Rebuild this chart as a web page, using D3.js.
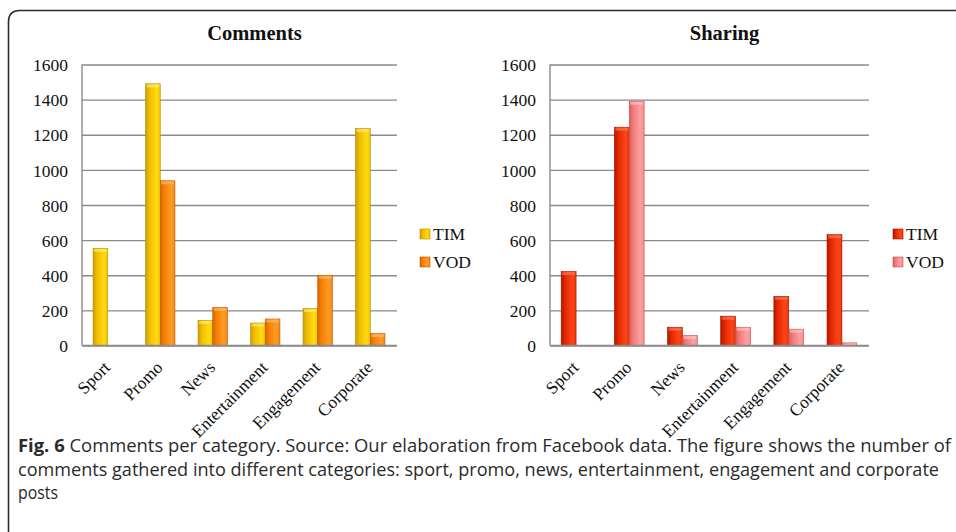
<!DOCTYPE html>
<html><head><meta charset="utf-8">
<script src="https://cdn.jsdelivr.net/npm/d3@7"></script>
<style>html,body{margin:0;padding:0;background:#fff;}svg{display:block;}</style>
</head><body>
<svg id="c" width="956" height="532"></svg>
<script>
const categories = ["Sport","Promo","News","Entertainment","Engagement","Corporate"];
const seriesNames = ["TIM","VOD"];
const commentsTIM = [553, 1490, 143, 128, 210, 1235];
const commentsVOD = [0, 938, 216, 151, 400, 68];
const sharingTIM = [421, 1243, 104, 167, 280, 631];
const sharingVOD = [0, 1391, 57, 104, 93, 15];
const yTicks = [0,200,400,600,800,1000,1200,1400,1600];
const captionBold = "Fig. 6";
const captionLines = [" Comments per category. Source: Our elaboration from Facebook data. The figure shows the number of",
  "comments gathered into different categories: sport, promo, news, entertainment, engagement and corporate",
  "posts"];

const svg = d3.select("#c");
const defs = svg.append("defs");
function grad(id, stops){
  const g = defs.append("linearGradient").attr("id", id).attr("x1","0").attr("x2","1").attr("y1","0").attr("y2","0");
  stops.forEach(s => g.append("stop").attr("offset", s[0]).attr("stop-color", s[1]));
}
grad("gTimC", [["0%","#cf9c00"],["25%","#eebb00"],["75%","#ffdc10"],["100%","#f0c400"]]);
grad("gVodC", [["0%","#d86400"],["25%","#f57f00"],["75%","#ff9a28"],["100%","#f08a10"]]);
grad("gTimS", [["0%","#b81400"],["25%","#e02800"],["75%","#ff4418"],["100%","#ea3608"]]);
grad("gVodS", [["0%","#d85c5c"],["25%","#f07a7a"],["75%","#ffa0a0"],["100%","#f48c8c"]]);

const serif = "'Liberation Serif','Times New Roman',serif";

// frame
svg.append("path").attr("d","M8.5,540 L8.5,22 Q8.5,10.5 20,10.5 L970,10.5")
  .attr("fill","none").attr("stroke","#2a2a2a").attr("stroke-width",1.6);

const y = d3.scaleLinear().domain([0,1600]).range([345.5,64.5]);

function chart(opt){
  const x = d3.scaleBand().domain(categories).range([opt.x0, opt.x1]).padding(0);
  const xs = d3.scaleBand().domain(seriesNames).range([0, x.bandwidth()*0.56]);
  const off = x.bandwidth()*0.22 - 0.5;
  const g = svg.append("g");
  // gridlines
  g.append("g").attr("transform",`translate(${opt.x0},0)`)
    .call(d3.axisLeft(y).tickValues(yTicks).tickSize(-(opt.x1-opt.x0)).tickFormat(d=>d))
    .attr("font-family", serif)
    .call(a=>a.select(".domain").remove())
    .call(a=>a.selectAll("line").attr("stroke","#8a8a8a").attr("stroke-width",1.4))
    .call(a=>a.selectAll("text").attr("x",-14).attr("dy","0.35em")
      .attr("font-family",serif).attr("font-size",17.5).attr("fill","#111"));
  g.append("line").attr("x1",opt.x0).attr("x2",opt.x0).attr("y1",y(1600)).attr("y2",y(0))
    .attr("stroke","#8a8a8a").attr("stroke-width",1.4);
  // bars
  const data = [opt.tim, opt.vod];
  const fills = [opt.fTim, opt.fVod];
  const strokes = [opt.sTim, opt.sVod];
  seriesNames.forEach((s,si)=>{
    const vals = data[si];
    g.append("g").selectAll("rect").data(categories.map((c,i)=>({c, v:vals[i]})).filter(d=>d.v>0))
      .join("rect")
      .attr("x", d=>x(d.c)+off+xs(s))
      .attr("y", d=>y(d.v))
      .attr("width", xs.bandwidth())
      .attr("height", d=>y(0)-y(d.v))
      .attr("fill", `url(#${fills[si]})`)
      .attr("stroke", strokes[si]).attr("stroke-width",0.6);
    g.append("g").selectAll("rect").data(categories.map((c,i)=>({c, v:vals[i]})).filter(d=>d.v>12))
      .join("rect")
      .attr("x", d=>x(d.c)+off+xs(s)+1)
      .attr("y", d=>y(d.v)+0.5)
      .attr("width", xs.bandwidth()-2)
      .attr("height", 3)
      .attr("fill", opt.cap[si]).attr("opacity",0.6);
  });
  // baseline
  g.append("line").attr("x1",opt.x0).attr("x2",opt.x1).attr("y1",y(0)).attr("y2",y(0))
    .attr("stroke","#8a8a8a").attr("stroke-width",1.4);
  // x labels
  g.append("g").selectAll("text").data(categories).join("text")
    .attr("transform", d=>`translate(${x(d)+x.bandwidth()/2+3},${y(0)+23}) rotate(-45)`)
    .attr("text-anchor","end")
    .attr("font-family",serif).attr("font-size",17.5).attr("fill","#111")
    .text(d=>d);
  // title
  g.append("text").attr("x", (opt.x0+opt.x1)/2+15).attr("y", 40).attr("text-anchor","middle")
    .attr("font-family",serif).attr("font-weight","bold").attr("font-size",20.5)
    .attr("fill","#111").text(opt.title);
  // legend
  const lg = g.append("g").attr("transform",`translate(${opt.lx},0)`);
  seriesNames.forEach((s,si)=>{
    const ly = 234 + si*28;
    lg.append("rect").attr("x",0).attr("y",ly-5).attr("width",10).attr("height",10)
      .attr("fill",`url(#${fills[si]})`).attr("stroke",strokes[si]).attr("stroke-width",0.6);
    lg.append("text").attr("x",13).attr("y",ly+6)
      .attr("font-family",serif).attr("font-size",17.5).attr("fill","#111").text(s);
  });
}

chart({x0:82, x1:397, tim:commentsTIM, vod:commentsVOD, fTim:"gTimC", fVod:"gVodC",
  sTim:"#b88a00", sVod:"#c05800", cap:["#fff27a","#ffc070"], title:"Comments", lx:420});
chart({x0:550, x1:869, tim:sharingTIM, vod:sharingVOD, fTim:"gTimS", fVod:"gVodS",
  sTim:"#a01000", sVod:"#c85050", cap:["#ff8060","#ffc8c8"], title:"Sharing", lx:893});

// caption
const capFont = "'Open Sans','Noto Sans',sans-serif";
const capSize = 18.5;
const t1 = svg.append("text").attr("x",18).attr("y",452).attr("font-family",capFont).attr("font-size",capSize).attr("fill","#2a2a2a")
  .attr("textLength",933).attr("lengthAdjust","spacingAndGlyphs");
t1.append("tspan").attr("font-weight","bold").text(captionBold);
t1.append("tspan").text(captionLines[0]);
svg.append("text").attr("x",18).attr("y",476).attr("font-family",capFont).attr("font-size",capSize).attr("fill","#2a2a2a")
  .attr("textLength",921).attr("lengthAdjust","spacingAndGlyphs").text(captionLines[1]);
svg.append("text").attr("x",18).attr("y",499).attr("font-family",capFont).attr("font-size",capSize).attr("fill","#2a2a2a")
  .attr("textLength",40).attr("lengthAdjust","spacingAndGlyphs").text(captionLines[2]);
</script>
</body></html>
